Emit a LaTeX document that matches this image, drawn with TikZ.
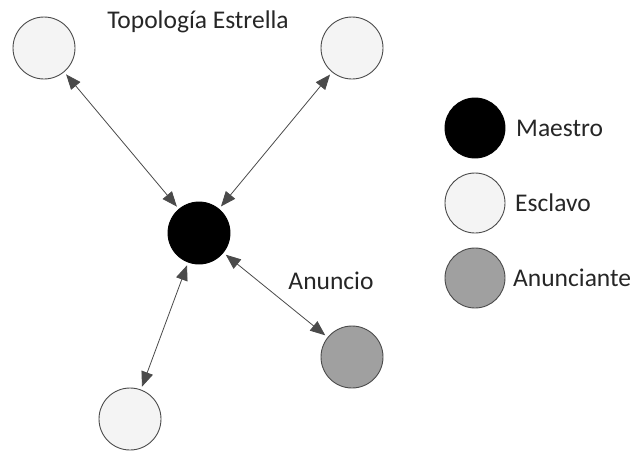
\documentclass[tikz,border=0pt]{standalone}
\usepackage{fontspec}
\setmainfont{Carlito}
\usetikzlibrary{arrows.meta}
\definecolor{edgegray}{HTML}{4A4A4A}
\definecolor{slavefill}{HTML}{F4F4F4}
\definecolor{annfill}{HTML}{A0A0A0}
\tikzset{
  nodecirc/.style={circle, minimum size=62pt, inner sep=0pt, draw=edgegray, line width=0.9pt},
  master/.style={nodecirc, fill=black, draw=black},
  slave/.style={nodecirc, fill=slavefill},
  announcer/.style={nodecirc, fill=annfill},
  link/.style={draw=edgegray, line width=0.8pt, {Triangle[length=15pt,width=12pt]}-{Triangle[length=15pt,width=12pt]}, shorten <=3pt, shorten >=3pt},
  lbl/.style={font=\fontsize{25.5pt}{28pt}\selectfont, text=black!85}
}
\begin{document}
\begin{tikzpicture}[x=1pt,y=-1pt]
\useasboundingbox (0,0) rectangle (636,450);
\node[slave] (tl) at (44,48) {};
\node[slave] (tr) at (352,48) {};
\node[master] (m) at (199,233) {};
\node[announcer] (a) at (352,357) {};
\node[slave] (b) at (130,419) {};
\node[lbl] (title) at (198,22) {Topología Estrella};
\node[lbl] (anuncio) at (331,281) {Anuncio};
\draw[link] (tl) -- (m);
\draw[link] (tr) -- (m);
\draw[link] (m) -- (b);
\draw[link] (m) -- (a);
\node[master, minimum size=60pt] (lm) at (475,128) {};
\node[slave, minimum size=60pt] (ls) at (475,203) {};
\node[announcer, minimum size=60pt] (la) at (475,278) {};
\node[lbl, anchor=west, inner sep=0pt] (tm) at (516,128) {Maestro};
\node[lbl, anchor=west, inner sep=0pt] (ts) at (515,203) {Esclavo};
\node[lbl, anchor=west, inner sep=0pt] (ta) at (513,278) {Anunciante};
\end{tikzpicture}
\end{document}
